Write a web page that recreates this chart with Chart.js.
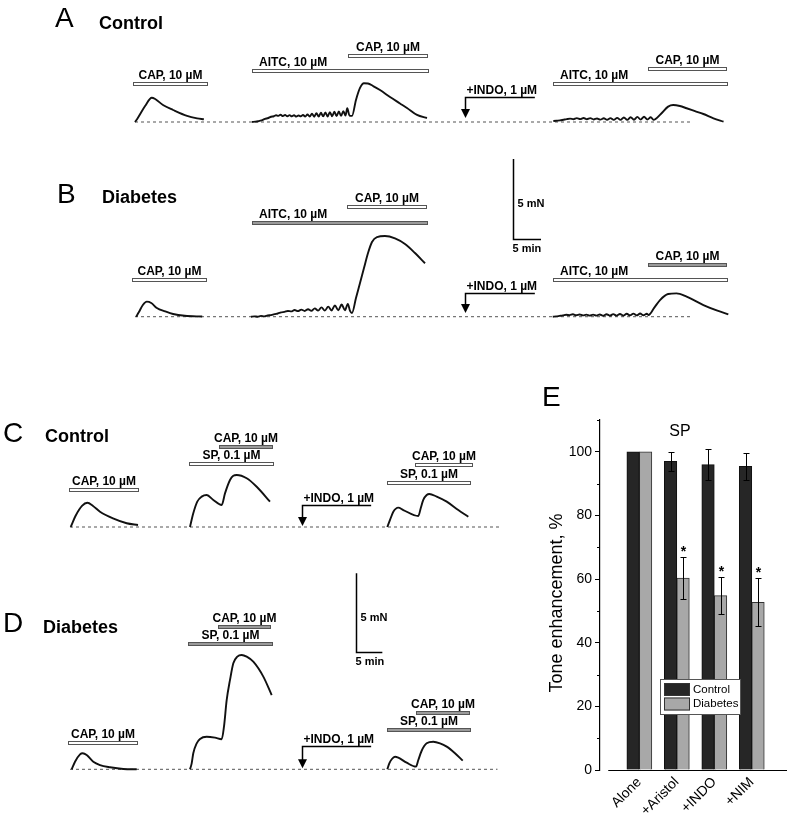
<!DOCTYPE html>
<html>
<head>
<meta charset="utf-8">
<script src="https://cdn.jsdelivr.net/npm/chart.js@4.4.0/dist/chart.umd.min.js"></script>
<style>
  body { margin: 0; background: #fff; width: 787px; height: 816px; position: relative; overflow: hidden; }
  canvas { position: absolute; }
</style>
</head>
<body>
<canvas id="panelA" width="787" height="140" style="left:0;top:0"></canvas>
<canvas id="panelB" width="787" height="200" style="left:0;top:140px"></canvas>
<canvas id="panelC" width="540" height="160" style="left:0;top:380px"></canvas>
<canvas id="panelD" width="540" height="271" style="left:0;top:545px"></canvas>
<canvas id="panelE" width="247" height="436" style="left:540px;top:380px"></canvas>
<script>
// ---- traces: [time (min), tension above baseline (mN)] ----
const traceA1 = [[0,0],[0.5,0.25],[1.8,1.0],[3.0,1.52],[3.6,1.44],[5.0,1.06],[6.8,0.75],[9.3,0.38],[11.1,0.23],[12.3,0.17]];
const traceA2 = [[20.9,0],[21.5,0.02],[22.0,0.05],[22.6,0.1],[23.2,0.19],[23.8,0.25],[24.3,0.33],[24.8,0.36],[25.2,0.42],[25.6,0.38],[26.0,0.45],[26.4,0.37],[26.8,0.44],[27.2,0.36],[27.6,0.43],[28.0,0.35],[28.4,0.42],[28.8,0.34],[29.2,0.41],[29.6,0.35],[30.0,0.44],[30.4,0.34],[30.8,0.47],[31.2,0.34],[31.6,0.52],[32.0,0.33],[32.4,0.55],[32.8,0.34],[33.2,0.58],[33.6,0.35],[34.0,0.6],[34.4,0.34],[34.8,0.62],[35.2,0.36],[35.6,0.65],[36.0,0.37],[36.4,0.66],[36.8,0.38],[37.2,0.68],[37.6,0.4],[37.9,0.86],[38.3,0.4],[38.75,0.38],[39.46,1.38],[40.18,2.13],[40.89,2.42],[41.6,2.41],[42.5,2.25],[43.75,2.0],[45.54,1.56],[47.32,1.16],[48.57,0.88],[50.36,0.44],[52.14,0.25]];
const traceA3 = [[74.7,0.06],[75.3,0.08],[75.9,0.1],[76.5,0.14],[77.1,0.18],[77.7,0.21],[78.3,0.17],[78.9,0.24],[79.5,0.18],[80.1,0.25],[80.7,0.17],[81.3,0.24],[81.9,0.16],[82.5,0.22],[83.1,0.15],[83.7,0.23],[84.3,0.14],[84.9,0.24],[85.5,0.13],[86.1,0.26],[86.7,0.13],[87.3,0.28],[87.9,0.13],[88.5,0.3],[89.1,0.14],[89.7,0.32],[90.3,0.15],[90.9,0.33],[91.5,0.16],[92.1,0.3],[92.6,0.13],[93.9,0.5],[95.2,0.96],[96.1,1.06],[97.3,1.0],[98.5,0.86],[100.0,0.68],[101.5,0.5],[103.3,0.23],[105.1,0.02]];

const traceB1 = [[0.2,0],[0.7,0.29],[1.4,0.73],[2.1,0.94],[2.9,0.86],[3.9,0.54],[5.4,0.33],[6.8,0.17],[8.9,0.06],[12.0,0.01]];
const traceB2 = [[20.7,0],[21.3,0.02],[21.9,0.0],[22.5,0.05],[23.1,0.02],[23.7,0.08],[24.3,0.1],[24.9,0.16],[25.5,0.2],[26.1,0.27],[26.7,0.3],[27.3,0.36],[27.9,0.33],[28.5,0.42],[29.1,0.35],[29.7,0.44],[30.3,0.36],[30.9,0.47],[31.5,0.37],[32.1,0.52],[32.7,0.38],[33.3,0.58],[33.9,0.38],[34.5,0.63],[35.1,0.39],[35.7,0.7],[36.3,0.4],[36.9,0.76],[37.5,0.4],[38.0,0.8],[38.4,0.36],[38.75,0.23],[39.46,1.17],[40.18,2.11],[40.89,3.04],[41.61,3.98],[42.32,4.67],[43.21,4.98],[44.64,5.04],[46.43,4.89],[48.21,4.54],[50.0,3.98],[51.79,3.34]];
const traceB3 = [[74.6,0],[75.2,0.02],[75.8,0.05],[76.4,0.08],[77.0,0.12],[77.6,0.1],[78.2,0.15],[78.8,0.09],[79.4,0.14],[80.0,0.08],[80.6,0.13],[81.2,0.07],[81.8,0.13],[82.4,0.07],[83.0,0.14],[83.6,0.06],[84.2,0.15],[84.8,0.07],[85.4,0.16],[86.0,0.07],[86.6,0.17],[87.2,0.07],[87.8,0.18],[88.4,0.08],[89.0,0.19],[89.6,0.08],[90.2,0.2],[90.8,0.09],[91.4,0.18],[91.7,0.11],[92.7,0.55],[93.75,1.04],[95.2,1.42],[96.7,1.46],[98.5,1.25],[101.5,0.73],[104.0,0.38],[105.95,0.15]];

const traceC1 = [[0.13,0],[1.13,0.76],[2.25,1.34],[3.25,1.54],[4.32,1.34],[5.63,0.97],[8.07,0.55],[10.64,0.24],[12.76,0.13]];
const traceC2 = [[22.51,0],[23.13,0.87],[23.88,1.61],[24.71,1.93],[25.65,2.03],[26.89,1.72],[28.46,1.40],[29.08,2.14],[30.02,2.99],[30.64,3.26],[31.28,3.31],[33.15,3.10],[35.03,2.56],[37.52,1.61]];
const traceC3 = [[59.53,0],[60.04,0.45],[60.66,0.97],[61.59,1.23],[62.53,1.08],[65.35,0.70],[65.80,1.19],[66.28,1.72],[66.92,2.03],[67.41,2.10],[68.80,1.93],[70.68,1.61],[72.85,1.08],[74.73,0.65]];

const traceD1 = [[0.32,0],[0.94,0.48],[1.88,0.95],[2.38,1.02],[3.13,0.91],[4.37,0.48],[5.63,0.27],[7.5,0.13],[10.0,0.02],[12.51,0]];
const traceD2 = [[22.51,0],[22.83,0.38],[23.13,1.02],[23.77,1.65],[24.39,1.93],[25.65,2.07],[27.2,2.01],[28.46,1.91],[28.89,2.71],[29.4,4.41],[30.02,5.68],[30.64,6.74],[31.39,7.16],[32.21,7.27],[33.15,7.16],[34.39,6.84],[36.27,5.89],[37.84,4.72]];
const traceD3 = [[59.53,0],[59.91,0.38],[60.36,0.64],[60.98,0.8],[61.59,0.74],[63.17,0.42],[64.92,0.17],[65.35,0.59],[65.98,1.18],[66.92,1.65],[68.16,1.75],[69.42,1.65],[70.68,1.44],[72.23,1.02],[73.68,0.55]];

// ---- drug applications (min) ----
const drugsA = ['CAP, 10 µM', 'AITC, 10 µM', 'CAP, 10 µM', 'AITC, 10 µM', 'CAP, 10 µM'];
const drugOnA = [-0.4, 20.9, 38.0, 74.6, 91.6];
const drugOffA = [13.0, 52.5, 52.3, 105.9, 105.7];
const drugOnB = [-0.5, 20.9, 37.9, 74.6, 91.6];
const drugOffB = [12.9, 52.3, 52.1, 105.9, 105.7];
const indoAB = [58.9, 71.4];

const drugsCD = ['CAP, 10 µM', 'SP, 0.1 µM', 'CAP, 10 µM', 'SP, 0.1 µM', 'CAP, 10 µM'];
const drugOnC = [-0.2, 22.4, 27.95, 59.5, 64.7];
const drugOffC = [12.9, 38.3, 38.0, 75.2, 75.55];
const drugOnD = [-0.4, 22.2, 27.8, 59.4, 64.9];
const drugOffD = [12.8, 38.0, 37.8, 75.2, 75.05];
const indoCD = [43.5, 56.5];

// ---- panel E ----
const groups = ['Alone', '+Aristol', '+INDO', '+NIM'];
const controlMean = [100, 97, 96, 95.4];
const controlErr = [0, 3, 5, 4.3];
const diabetesMean = [100, 60.3, 54.8, 52.7];
const diabetesErr = [0, 6.6, 5.9, 7.5];
const diabetesStar = [false, true, true, true];
const yTicks = [0, 20, 40, 60, 80, 100];

const FONT = '"Liberation Sans", Arial, sans-serif';
Chart.defaults.font.family = FONT;

// pixel frame -> axis limits (px per min, px per mN)
function frame(w, h, x0, base, ppm, ppn) {
  return { xMin: -x0 / ppm, xMax: (w - x0) / ppm, yMin: -(h - base) / ppn, yMax: base / ppn };
}

function traceDecor(p) {
  return {
    id: 'decor',
    afterDraw(chart) {
      const ctx = chart.ctx, xs = chart.scales.x, ys = chart.scales.y;
      const base = ys.getPixelForValue(0);
      ctx.save();
      ctx.fillStyle = '#000';
      ctx.textAlign = 'left';
      ctx.textBaseline = 'alphabetic';
      ctx.font = '28px ' + FONT;
      ctx.fillText(p.letter, p.letterPos[0], p.letterPos[1]);
      ctx.font = 'bold 18px ' + FONT;
      ctx.fillText(p.group, p.groupPos[0], p.groupPos[1]);

      // application bars
      ctx.font = 'bold 12px ' + FONT;
      p.drugs.forEach((name, i) => {
        const x1 = Math.round(xs.getPixelForValue(p.on[i]));
        const x2 = Math.round(xs.getPixelForValue(p.off[i]));
        const y = Math.round(base - p.rise[i]);
        ctx.fillStyle = p.fill[i] ? '#9a9a9a' : '#fff';
        ctx.fillRect(x1, y - 2, x2 - x1, 4);
        ctx.strokeStyle = '#555';
        ctx.lineWidth = 1;
        ctx.strokeRect(x1 + 0.5, y - 1.5, x2 - x1 - 1, 3);
        ctx.fillStyle = '#000';
        if (p.align[i] === 'l') {
          ctx.textAlign = 'left';
          ctx.fillText(name, x1 + 7, y - 5);
        } else {
          ctx.textAlign = 'center';
          ctx.fillText(name, (x1 + x2) / 2, y - 5);
        }
      });

      // INDO arrow
      const ax = Math.round(xs.getPixelForValue(p.indo[0])) + 0.5;
      const ax2 = xs.getPixelForValue(p.indo[1]);
      const ay = Math.round(base - p.indoRise) + 0.5;
      const tip = base - p.tipRise;
      ctx.strokeStyle = '#000';
      ctx.lineWidth = 1.5;
      ctx.beginPath();
      ctx.moveTo(ax2, ay); ctx.lineTo(ax, ay); ctx.lineTo(ax, tip - 7);
      ctx.stroke();
      ctx.beginPath();
      ctx.moveTo(ax - 4.5, tip - 9); ctx.lineTo(ax + 4.5, tip - 9); ctx.lineTo(ax, tip);
      ctx.closePath();
      ctx.fillStyle = '#000';
      ctx.fill();
      ctx.textAlign = 'left';
      ctx.fillText('+INDO, 1 µM', ax + 1, ay - 4);

      // scale bar 5 mN / 5 min
      if (p.scale) {
        const sx = Math.round(xs.getPixelForValue(p.scale[0])) + 0.5;
        const sb = Math.round(ys.getPixelForValue(p.scale[1])) + 0.5;
        const st = ys.getPixelForValue(p.scale[1] + 5);
        const sr = xs.getPixelForValue(p.scale[0] + 5);
        ctx.lineWidth = 1.5;
        ctx.beginPath();
        ctx.moveTo(sx, st); ctx.lineTo(sx, sb); ctx.lineTo(sr, sb);
        ctx.stroke();
        ctx.font = 'bold 11px ' + FONT;
        ctx.fillText('5 mN', sx + 4, (st + sb) / 2 + 8);
        ctx.fillText('5 min', sx - 1, sb + 12);
      }
      ctx.restore();
    }
  };
}

function traceChart(id, traces, baseEnd, f, decor) {
  const sets = traces.map(tr => ({
    data: tr.map(([x, y]) => ({ x, y })),
    showLine: true, borderColor: '#111', borderWidth: 1.9, pointRadius: 0,
    cubicInterpolationMode: 'monotone'
  }));
  sets.push({
    data: [{ x: 0, y: 0 }, { x: baseEnd, y: 0 }],
    showLine: true, borderColor: '#555', borderWidth: 1, borderDash: [3, 3], pointRadius: 0
  });
  new Chart(document.getElementById(id), {
    type: 'scatter',
    data: { datasets: sets },
    options: {
      responsive: false, animation: false, events: [],
      layout: { padding: 0 },
      plugins: { legend: { display: false }, tooltip: { enabled: false } },
      scales: {
        x: { type: 'linear', display: false, min: f.xMin, max: f.xMax },
        y: { type: 'linear', display: false, min: f.yMin, max: f.yMax }
      }
    },
    plugins: [traceDecor(decor)]
  });
}

traceChart('panelA', [traceA1, traceA2, traceA3], 99.6, frame(787, 140, 135, 122, 5.6, 16), {
  letter: 'A', letterPos: [55, 27], group: 'Control', groupPos: [99, 29],
  drugs: drugsA, on: drugOnA, off: drugOffA,
  rise: [37.7, 51, 66, 38.3, 53.3], fill: [0, 0, 0, 0, 0], align: ['c', 'l', 'c', 'l', 'c'],
  indo: indoAB, indoRise: 25.3, tipRise: 4
});

traceChart('panelB', [traceB1, traceB2, traceB3], 99.6, frame(787, 200, 135, 176.7, 5.6, 16), {
  letter: 'B', letterPos: [57, 63], group: 'Diabetes', groupPos: [102, 63],
  drugs: drugsA, on: drugOnB, off: drugOffB,
  rise: [36.7, 94, 109.7, 36.4, 51.7], fill: [0, 1, 0, 0, 1], align: ['c', 'l', 'c', 'l', 'c'],
  indo: indoAB, indoRise: 23.4, tipRise: 3.7,
  scale: [67.5, 4.86]
});

traceChart('panelC', [traceC1, traceC2, traceC3], 80.7, frame(540, 160, 70, 147, 5.33, 15.73), {
  letter: 'C', letterPos: [3, 62], group: 'Control', groupPos: [45, 62],
  drugs: drugsCD, on: drugOnC, off: drugOffC,
  rise: [37, 62.7, 80.3, 44.3, 62], fill: [0, 0, 1, 0, 0], align: ['c', 'c', 'c', 'c', 'c'],
  indo: indoCD, indoRise: 22, tipRise: 1
});

traceChart('panelD', [traceD1, traceD2, traceD3], 80.2, frame(540, 271, 70, 224.3, 5.33, 15.73), {
  letter: 'D', letterPos: [3, 87], group: 'Diabetes', groupPos: [43, 88],
  drugs: drugsCD, on: drugOnD, off: drugOffD,
  rise: [26.6, 125, 142.6, 39.3, 56], fill: [0, 1, 1, 1, 1], align: ['c', 'c', 'c', 'c', 'c'],
  indo: indoCD, indoRise: 23.3, tipRise: 1,
  scale: [53.6, 7.46]
});

// ---- panel E: bar chart with error bars ----
const errs = [controlErr, diabetesErr];
const barDecor = {
  id: 'barDecor',
  afterDatasetsDraw(chart) {
    const ctx = chart.ctx, xs = chart.scales.x, ys = chart.scales.y, area = chart.chartArea;
    ctx.save();
    ctx.strokeStyle = '#000';
    ctx.fillStyle = '#000';
    ctx.lineWidth = 1;
    // error bars
    chart.data.datasets.forEach((ds, d) => {
      chart.getDatasetMeta(d).data.forEach((bar, i) => {
        const e = errs[d][i];
        if (!e) return;
        const v = ds.data[i].y;
        const x = Math.round(bar.x) + 0.5;
        const yt = Math.round(ys.getPixelForValue(v + e)) + 0.5;
        const yb = Math.round(ys.getPixelForValue(v - e)) + 0.5;
        ctx.beginPath();
        ctx.moveTo(x, yt); ctx.lineTo(x, yb);
        ctx.moveTo(x - 3, yt); ctx.lineTo(x + 3, yt);
        ctx.moveTo(x - 3, yb); ctx.lineTo(x + 3, yb);
        ctx.stroke();
        if (d === 1 && diabetesStar[i]) {
          ctx.font = 'bold 14px ' + FONT;
          ctx.textAlign = 'center';
          ctx.fillText('*', x, yt - 2);
        }
      });
    });
    // x axis line (offset from the y axis)
    ctx.lineWidth = 1.2;
    ctx.beginPath();
    ctx.moveTo(xs.getPixelForValue(0.17), area.bottom + 0.5);
    ctx.lineTo(area.right, area.bottom + 0.5);
    ctx.stroke();
    // minor y ticks
    ctx.lineWidth = 1;
    ctx.beginPath();
    [10, 30, 50, 70, 90, 110].forEach(v => {
      const y = Math.round(ys.getPixelForValue(v)) + 0.5;
      ctx.moveTo(area.left - 3, y); ctx.lineTo(area.left, y);
    });
    ctx.stroke();
    // legend box
    ctx.lineWidth = 1;
    ctx.fillStyle = '#fff';
    ctx.fillRect(120, 299, 80, 35);
    ctx.strokeStyle = '#555';
    ctx.strokeRect(120.5, 299.5, 80, 35);
    chart.data.datasets.forEach((ds, d) => {
      const top = 303 + d * 14.5;
      ctx.fillStyle = ds.backgroundColor;
      ctx.fillRect(124, top, 26, 13);
      ctx.strokeStyle = '#333';
      ctx.strokeRect(124.5, top + 0.5, 25, 12);
      ctx.fillStyle = '#000';
      ctx.font = '11.5px ' + FONT;
      ctx.textAlign = 'left';
      ctx.textBaseline = 'middle';
      ctx.fillText(ds.label, 153, top + 6.5);
    });
    ctx.textBaseline = 'alphabetic';
    // titles
    ctx.fillStyle = '#000';
    ctx.font = '16px ' + FONT;
    ctx.textAlign = 'center';
    ctx.fillText('SP', 140, 56);
    ctx.font = '28px ' + FONT;
    ctx.textAlign = 'left';
    ctx.fillText('E', 2, 26);
    ctx.save();
    ctx.translate(22, 223);
    ctx.rotate(-Math.PI / 2);
    ctx.font = '18px ' + FONT;
    ctx.textAlign = 'center';
    ctx.fillText('Tone enhancement, %', 0, 0);
    ctx.restore();
    ctx.restore();
  }
};

new Chart(document.getElementById('panelE'), {
  type: 'bar',
  data: {
    datasets: [
      { label: 'Control', data: controlMean.map((v, i) => ({ x: i + 1, y: v })),
        backgroundColor: '#262626', borderColor: '#111', borderWidth: 1, barThickness: 12.5 },
      { label: 'Diabetes', data: diabetesMean.map((v, i) => ({ x: i + 1, y: v })),
        backgroundColor: '#a8a8a8', borderColor: '#333', borderWidth: 1, barThickness: 12.5 }
    ]
  },
  options: {
    responsive: false, animation: false, events: [],
    layout: { padding: { top: 40, left: 0, right: 0, bottom: 0 } },
    plugins: { legend: { display: false }, tooltip: { enabled: false } },
    scales: {
      x: {
        type: 'linear', min: -0.05, max: 4.94, offset: false,
        grid: { display: false, drawTicks: false }, border: { display: false },
        afterBuildTicks: s => { s.ticks = groups.map((g, i) => ({ value: i + 1 })); },
        afterFit: s => { s.height = 46; },
        ticks: { autoSkip: false, minRotation: 45, maxRotation: 45, padding: 4, color: '#000',
          font: { size: 14 }, callback: v => groups[v - 1] }
      },
      y: {
        min: 0, max: 110,
        afterBuildTicks: s => { s.ticks = yTicks.map(v => ({ value: v })); },
        afterFit: s => { s.width = 60; },
        grid: { drawOnChartArea: false, tickLength: 5, color: '#000', tickColor: '#000' },
        border: { display: true, color: '#000', width: 1.2 },
        ticks: { padding: 3, color: '#000', font: { size: 14 } }
      }
    }
  },
  plugins: [barDecor]
});
</script>
</body>
</html>
